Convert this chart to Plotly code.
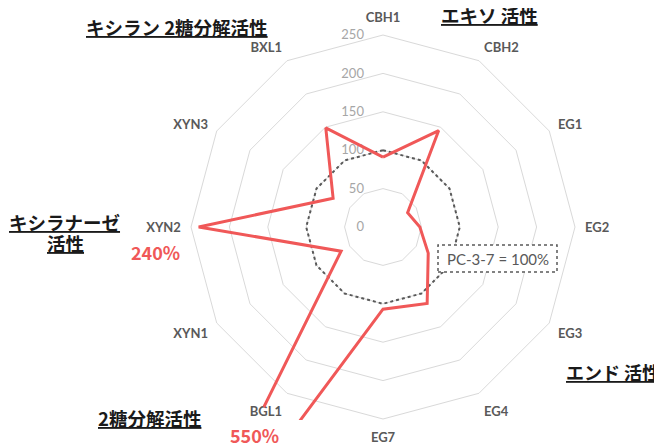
import plotly.graph_objects as go

categories = ['CBH1', 'CBH2', 'EG1', 'EG2', 'EG3', 'EG4', 'EG7',
              'BGL1', 'XYN1', 'XYN2', 'XYN3', 'BXL1']
sample_values = [91, 145, 37, 48, 68, 115, 107, 550, 63, 240, 75, 149]
baseline_values = [100] * 12
radial_ticks = [0, 50, 100, 150, 200, 250]

W, H = 662, 448
OFF = 8  # page body margin
RED = 'rgb(240,88,88)'
JP = 'Noto Sans CJK JP'


def sx(x):
    return (x - OFF) / W


def sy(y):
    return 1 - (y - OFF) / H


# chart centre / outer radius in page pixels
CX, CY, R = 383, 227, 192
R2 = 219  # larger invisible polar for the red line, so it can run past the 250 ring
RMAX = 250

fig = go.Figure()

fig.add_trace(go.Scatterpolar(
    r=baseline_values + baseline_values[:1],
    theta=categories + categories[:1],
    mode='lines',
    line=dict(color='#595959', width=2, dash='dot'),
    hoverinfo='skip',
    subplot='polar',
))

fig.add_trace(go.Scatterpolar(
    r=sample_values + sample_values[:1],
    theta=categories + categories[:1],
    mode='lines',
    line=dict(color=RED, width=3),
    subplot='polar2',
))

fig.update_layout(
    width=W, height=H,
    margin=dict(l=0, r=0, t=0, b=0),
    paper_bgcolor='white',
    showlegend=False,
    font=dict(family=JP),
    polar=dict(
        domain=dict(x=[sx(CX - R), sx(CX + R)], y=[sy(CY + R), sy(CY - R)]),
        bgcolor='rgba(0,0,0,0)',
        gridshape='linear',
        radialaxis=dict(
            range=[0, RMAX],
            tickvals=radial_ticks,
            angle=90,
            side='counterclockwise',
            tickangle=90,
            showline=False,
            ticks='outside',
            ticklen=14,
            tickcolor='rgba(0,0,0,0)',
            gridcolor='#d9d9d9',
            gridwidth=1,
            tickfont=dict(family='Lato', size=13, color='#a6a6a6'),
        ),
        angularaxis=dict(
            direction='clockwise',
            rotation=90,
            showgrid=False,
            ticks='outside',
            ticklen=7,
            tickcolor='rgba(0,0,0,0)',
            showline=True,
            linecolor='#d9d9d9',
            linewidth=1,
            tickfont=dict(family='Lato', size=13, color='#595959', weight='bold'),
        ),
    ),
    polar2=dict(
        domain=dict(x=[sx(CX - R2), sx(CX + R2)], y=[sy(CY + R2), sy(CY - R2)]),
        bgcolor='rgba(0,0,0,0)',
        gridshape='linear',
        radialaxis=dict(range=[0, RMAX * R2 / R], visible=False),
        angularaxis=dict(direction='clockwise', rotation=90, visible=False,
                         categoryorder='array', categoryarray=categories),
    ),
    shapes=[
        # clip the overshoot at the bottom of the plot area
        dict(type='rect', xref='paper', yref='paper', layer='above',
             x0=sx(200), x1=sx(345), y0=0, y1=sy(420),
             fillcolor='white', line=dict(width=0)),
        # dotted label box
        dict(type='rect', xref='paper', yref='paper', layer='above',
             x0=sx(438), x1=sx(557), y0=sy(272), y1=sy(245),
             fillcolor='white', line=dict(color='#595959', width=1.5, dash='dot')),
    ],
)

ann = [
    dict(text='PC-3-7 = 100%', x=498, y=259, size=15, color='#595959', bold=False, family='Lato'),
    dict(text='<u>エキソ 活性</u>', x=489, y=15, size=18.5, color='#1a1a1a', bold=True),
    dict(text='<u>キシラン 2糖分解活性</u>', x=177, y=27, size=18.5, color='#1a1a1a', bold=True),
    dict(text='<u>キシラナーゼ</u>', x=64, y=222, size=18.5, color='#1a1a1a', bold=True),
    dict(text='<u>活性</u>', x=65, y=243, size=18.5, color='#1a1a1a', bold=True),
    dict(text='240%', x=155, y=252, size=18, color=RED, bold=True),
    dict(text='<u>2糖分解活性</u>', x=149, y=418, size=18.5, color='#1a1a1a', bold=True),
    dict(text='550%', x=254, y=435, size=18, color=RED, bold=True),
    dict(text='<u>エンド 活性</u>', x=613, y=372, size=18, color='#1a1a1a', bold=True),
]
for a in ann:
    txt = f"<b>{a['text']}</b>" if a['bold'] else a['text']
    fig.add_annotation(
        text=txt, xref='paper', yref='paper',
        x=sx(a['x']), y=sy(a['y']),
        xanchor='center', yanchor='middle', showarrow=False,
        font=dict(family=a.get('family', JP), size=a['size'], color=a['color']),
    )

fig.write_html('out.html')
